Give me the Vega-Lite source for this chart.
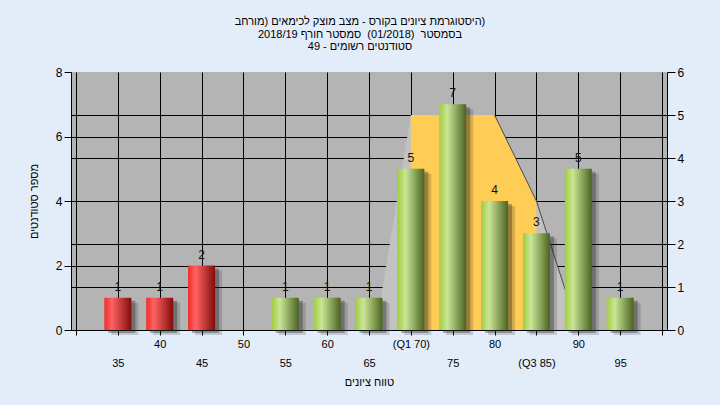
{
  "$schema": "https://vega.github.io/schema/vega-lite/v6.json",
  "width": 596,
  "height": 258,
  "autosize": {"type": "none"},
  "padding": {"left": 71, "top": 72, "right": 53, "bottom": 75},
  "background": "#E3EDF9",
  "title": {
    "text": ["היסטוגרמת ציונים בקורס - מצב מוצק לכימאים \u2067(\u2069מורחב)", "בסמסטר \u00a0(01/2018) \u00a0סמסטר חורף 2018/19", "סטודנטים רשומים - 49"],
    "fontSize": 11,
    "fontWeight": "normal",
    "color": "#000000",
    "lineHeight": 12.5,
    "anchor": "middle",
    "baseline": "bottom",
    "dx": -9,
    "offset": 3
  },
  "datasets": {
    "bars": [
      {"grade": 35, "count": 1, "pass": "no"},
      {"grade": 40, "count": 1, "pass": "no"},
      {"grade": 45, "count": 2, "pass": "no"},
      {"grade": 55, "count": 1, "pass": "yes"},
      {"grade": 60, "count": 1, "pass": "yes"},
      {"grade": 65, "count": 1, "pass": "yes"},
      {"grade": 70, "count": 5, "pass": "yes"},
      {"grade": 75, "count": 7, "pass": "yes"},
      {"grade": 80, "count": 4, "pass": "yes"},
      {"grade": 85, "count": 3, "pass": "yes"},
      {"grade": 90, "count": 5, "pass": "yes"},
      {"grade": 95, "count": 1, "pass": "yes"}
    ],
    "curve": [
      {"grade": 65.8, "v": 0},
      {"grade": 70, "v": 5},
      {"grade": 80, "v": 5},
      {"grade": 85, "v": 3},
      {"grade": 90, "v": 0}
    ],
    "note": [
      {"label": "במשימה : Final_A"}
    ]
  },
  "layer": [
    {
      "data": {"name": "curve"},
      "encoding": {
        "x": {
          "field": "grade", "type": "quantitative",
          "scale": {"domain": [30, 100], "nice": false, "zero": false},
          "axis": {
            "orient": "bottom",
            "values": [35, 45, 55, 65, 75, 85, 95],
            "labelExpr": "datum.value == 85 ? '(Q3 85)' : datum.label",
            "grid": false, "domain": false, "ticks": false,
            "labelPadding": 27, "labelFontSize": 11, "labelColor": "#000000",
            "labelOverlap": false, "labelFlush": false, "labelBound": false,
            "title": "טווח ציונים", "titlePadding": 8, "titleFontSize": 11,
            "titleFontWeight": "normal", "titleColor": "#000000"
          }
        },
        "y": {
          "field": "v", "type": "quantitative",
          "scale": {"domain": [0, 6], "nice": false},
          "axis": {
            "orient": "right", "values": [0, 1, 2, 3, 4, 5, 6],
            "grid": true, "gridColor": "#000000",
            "gridOpacity": {"condition": {"test": "datum.value == 6", "value": 0}, "value": 1},
            "domainColor": "#000000", "tickColor": "#000000", "tickSize": 8,
            "labelPadding": 2, "labelFontSize": 12, "labelColor": "#000000",
            "title": null
          }
        }
      },
      "layer": [
        {"mark": {"type": "area", "color": "#C2C2C2", "opacity": 1}},
        {
          "transform": [{"filter": "datum.grade >= 70 && datum.grade <= 85"}],
          "mark": {"type": "area", "color": "#FFCC55", "opacity": 1}
        },
        {
          "transform": [{"filter": "datum.grade >= 80"}],
          "mark": {"type": "line", "color": "#4a4a4a", "strokeWidth": 1}
        }
      ]
    },
    {
      "data": {"name": "bars"},
      "encoding": {
        "x": {
          "field": "grade", "type": "quantitative",
          "scale": {"domain": [30, 100], "nice": false, "zero": false},
          "axis": {
            "orient": "bottom",
            "values": [30, 35, 40, 45, 50, 55, 60, 65, 70, 75, 80, 85, 90, 95, 100],
            "labelExpr": "datum.value == 70 ? '(Q1 70)' : ((datum.value % 10 == 0 && datum.value >= 40 && datum.value <= 90) ? datum.label : '')",
            "grid": true, "gridColor": "#000000",
            "domainColor": "#000000", "tickColor": "#000000", "tickSize": 5,
            "labelPadding": 3, "labelFontSize": 11, "labelColor": "#000000",
            "labelOverlap": false, "labelFlush": false, "labelBound": false,
            "title": null
          }
        },
        "y": {
          "field": "count", "type": "quantitative",
          "scale": {"domain": [0, 8], "nice": false},
          "axis": {
            "orient": "left", "values": [0, 2, 4, 6, 8],
            "grid": true, "gridColor": "#000000",
            "gridOpacity": {"condition": {"test": "datum.value == 8", "value": 0}, "value": 1},
            "domainColor": "#000000", "tickColor": "#000000", "tickSize": 7,
            "labelPadding": 2, "labelFontSize": 12, "labelColor": "#000000",
            "title": "מספר סטודנטים", "titlePadding": 16, "titleFontSize": 11,
            "titleFontWeight": "normal", "titleColor": "#000000"
          }
        }
      },
      "layer": [
        {"mark": {"type": "bar", "size": 27, "color": "#222222", "opacity": 0.18, "xOffset": 7, "yOffset": 5, "y2Offset": 5}},
        {"mark": {"type": "bar", "size": 27, "color": "#222222", "opacity": 0.35, "xOffset": 4, "yOffset": 3, "y2Offset": 3}},
        {
          "transform": [{"filter": "datum.pass == 'no'"}],
          "mark": {
            "type": "bar", "size": 27,
            "color": {"gradient": "linear", "x1": 0, "y1": 0, "x2": 1, "y2": 0,
              "stops": [
                {"offset": 0, "color": "#F22C2C"},
                {"offset": 0.28, "color": "#FF6262"},
                {"offset": 1, "color": "#820C0C"}
              ]}
          }
        },
        {
          "transform": [{"filter": "datum.pass == 'yes'"}],
          "mark": {
            "type": "bar", "size": 27,
            "color": {"gradient": "linear", "x1": 0, "y1": 0, "x2": 1, "y2": 0,
              "stops": [
                {"offset": 0, "color": "#A0CC40"},
                {"offset": 0.3, "color": "#CBE597"},
                {"offset": 1, "color": "#4A6420"}
              ]}
          }
        },
        {
          "mark": {"type": "text", "baseline": "bottom", "dy": -4, "fontSize": 12, "color": "#111111"},
          "encoding": {"text": {"field": "count", "type": "quantitative"}}
        },
        {
          "data": {"name": "note"},
          "mark": {"type": "text", "fontSize": 11, "color": "#111111", "baseline": "middle", "align": "center"},
          "encoding": {
            "x": {"datum": 65},
            "y": {"datum": 7.55},
            "text": {"field": "label", "type": "nominal"}
          }
        }
      ]
    }
  ],
  "resolve": {"scale": {"y": "independent"}, "axis": {"x": "independent"}},
  "config": {
    "font": "Liberation Sans",
    "view": {"fill": "#B4B4B4", "stroke": null}
  }
}
